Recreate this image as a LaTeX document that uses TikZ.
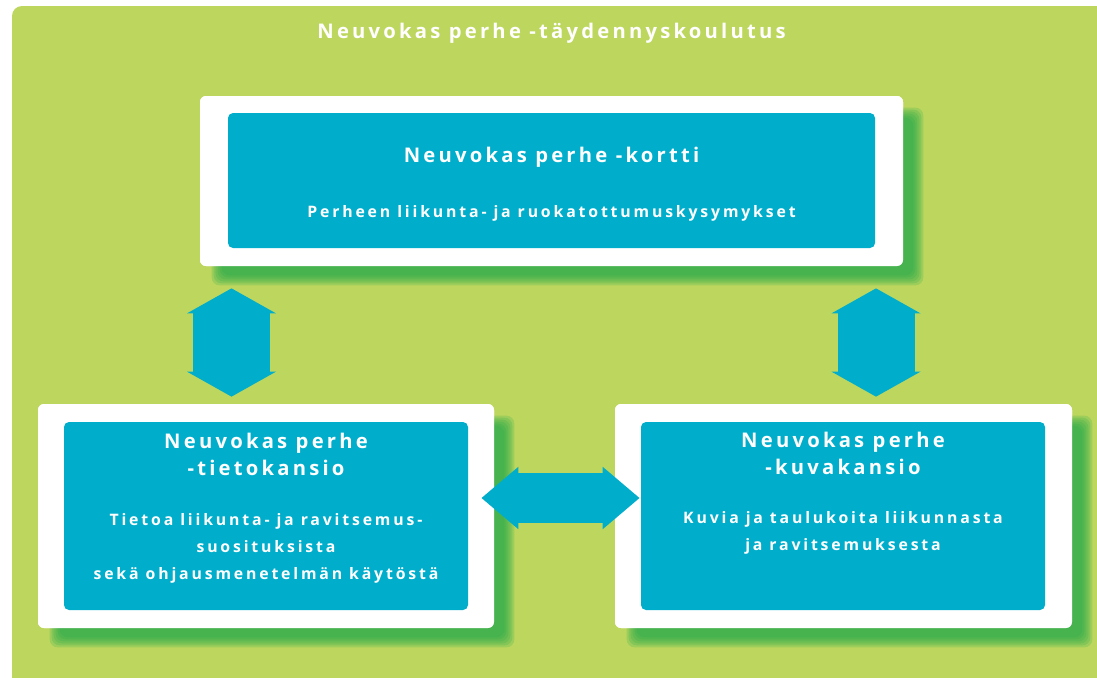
\documentclass[tikz,border=0pt]{standalone}
\usepackage{fontspec}
\setmainfont{Open Sans}
\newfontfamily\headfont{Open Sans}[LetterSpace=16]
\newfontfamily\bodyfont{Open Sans}[LetterSpace=18]
\usetikzlibrary{arrows.meta}
\newdimen\pxu \pxu=0.02cm
\definecolor{leafgreen}{HTML}{BDD75E}
\definecolor{shadegreen}{HTML}{1FA84A}
\definecolor{cardblue}{HTML}{00AECC}
\tikzset{
  framebox/.style={fill=white, rounded corners=6\pxu, inner sep=0pt},
  cardbox/.style={fill=cardblue, rounded corners=5\pxu, inner sep=0pt},
  headtext/.style={text=white, font=\headfont\bfseries\fontsize{11.5}{15.3}\selectfont, align=center, inner sep=0pt},
  bodytext/.style={text=white, font=\bodyfont\bfseries\fontsize{9}{15.3}\selectfont, align=center, inner sep=0pt},
  updown/.style={cardblue, line width=77\pxu, {Triangle[length=0.5cm, width=1.76cm]}-{Triangle[length=0.5cm, width=1.76cm]}},
  leftright/.style={cardblue, line width=50\pxu, {Triangle[length=0.74cm, width=1.2cm]}-{Triangle[length=0.74cm, width=1.2cm]}}
}
\begin{document}
\begin{tikzpicture}[x=0.02cm, y=-0.02cm]
\clip (0,0) rectangle (1097,677);
\fill[white] (0,0) rectangle (1097,677);
\fill[leafgreen, rounded corners=10\pxu] (12,6) rectangle (1120,700);

\node[headtext] (course) at (551.5,33) {Neuvokas perhe -täydennyskoulutus};

% white frames
\node[framebox, minimum width=703\pxu, minimum height=170\pxu] (kortti-w) at (551.5,181) {};
\node[framebox, minimum width=456\pxu, minimum height=224\pxu] (tieto-w) at (266,516) {};
\node[framebox, minimum width=457\pxu, minimum height=224\pxu] (kuva-w) at (843.5,516) {};

% soft shadows behind the frames
\foreach \f in {kortti-w, tieto-w, kuva-w} {
  \foreach \e in {7,5,3,1,-1,-3} {
    \fill[shadegreen, opacity=0.2, rounded corners=8\pxu]
      ([shift={(19-\e,19-\e)}]\f.north west) rectangle ([shift={(13+\e,12+\e)}]\f.south east);
  }
}
\node[framebox, minimum width=703\pxu, minimum height=170\pxu] at (kortti-w) {};
\node[framebox, minimum width=456\pxu, minimum height=224\pxu] at (tieto-w) {};
\node[framebox, minimum width=457\pxu, minimum height=224\pxu] at (kuva-w) {};

% blue cards
\node[cardbox, minimum width=647\pxu, minimum height=135\pxu] (kortti) at (551.5,180.5) {};
\node[cardbox, minimum width=404\pxu, minimum height=188\pxu] (tieto) at (266,516) {};
\node[cardbox, minimum width=404\pxu, minimum height=188\pxu] (kuva) at (843,516) {};

\node[headtext] (kortti-h) at (551.5,157) {Neuvokas perhe -kortti};
\node[bodytext] (kortti-b) at (551.5,213) {Perheen liikunta- ja ruokatottumuskysymykset};

\node[headtext] (tieto-h) at (266,454.5) {Neuvokas perhe\\-tietokansio};
\node[bodytext] (tieto-b) at (266,548) {Tietoa liikunta- ja ravitsemus-\\suosituksista\\sekä ohjausmenetelmän käytöstä};

\node[headtext] (kuva-h) at (843,453.5) {Neuvokas perhe\\-kuvakansio};
\node[bodytext] (kuva-b) at (843,532.5) {Kuvia ja taulukoita liikunnasta\\ja ravitsemuksesta};

% arrows between the parts
\draw[updown, shorten <=40\pxu, shorten >=25\pxu] (231.5,0 |- kortti.south) -- (231.5,0 |- tieto.north);
\draw[updown, shorten <=40\pxu, shorten >=25\pxu] (876,0 |- kortti.south) -- (876,0 |- kuva.north);
\draw[leftright, shorten <=13\pxu, shorten >=1\pxu] (tieto.east |- 0,498) -- (kuva.west |- 0,498);
\end{tikzpicture}
\end{document}
